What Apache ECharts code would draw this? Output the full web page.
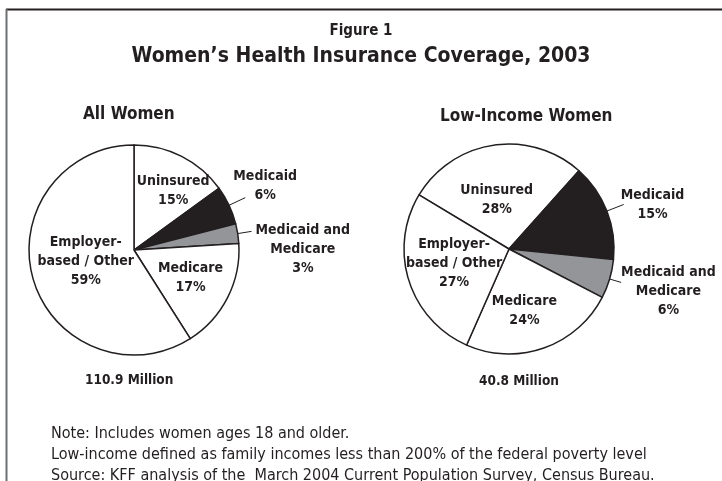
<!DOCTYPE HTML>
<html>
	<head>
		<meta charset="utf-8">
		<title>Women's Health Insurance Coverage, 2003</title>
		<style type="text/css">
			html, body { margin: 0; padding: 0; background: #fff; }
			#main { width: 722px; height: 481px; }
		</style>
	</head>
	<body>
		<div id="main"></div>
	</body>
	<script type="text/javascript" src="https://cdn.jsdelivr.net/npm/echarts@6/dist/echarts.min.js"></script>
	<script type="text/javascript">
		var FONT = "'Liberation Sans Narrow', 'DejaVu Sans Condensed', 'Noto Sans', sans-serif";

		// slices, clockwise from the first one
		var categories = ['Uninsured', 'Medicaid', 'Medicaid and Medicare', 'Medicare', 'Employer-based / Other'];
		var labelNames = ['Uninsured', 'Medicaid', 'Medicaid and\nMedicare', 'Medicare', 'Employer-\nbased / Other'];
		var allWomen = [15, 6, 3, 17, 59];
		var lowIncome = [28, 15, 6, 24, 27];
		var sliceColors = ['#ffffff', '#231f20', '#939598', '#ffffff', '#ffffff'];
		var outsideSlices = [1, 2];

		var pieTitles = ['All Women', 'Low-Income Women'];
		var totals = ['110.9 Million', '40.8 Million'];
		var notes = [
			'Note: Includes women ages 18 and older.',
			'Low-income defined as family incomes less than 200% of the federal poverty level',
			'Source: KFF analysis of the  March 2004 Current Population Survey, Census Bureau.'
		];

		// label nudges (px) from the default spot, and leader line lengths
		var leftLayout = {
			shift : [[14, -10], [-17, -12], [-1, 18], [7, 3], [5, -4]],
			lineLen : { 1 : 18, 2 : 14 }
		};
		var rightLayout = {
			shift : [[-4, 6], [-8, 0], [-5, 9], [-3, 10], [-2, -2]],
			lineLen : { 1 : 18, 2 : 12 }
		};

		function labelText(name, value) {
			return name.split('\n').map(function(s) {
				return '{c|' + s + '}';
			}).join('\n') + '\n{c|' + value + '%}';
		}

		function buildData(values, lay) {
			return values.map(function(v, i) {
				var item = {
					name : categories[i],
					value : v,
					itemStyle : { color : sliceColors[i] },
					label : {
						formatter : labelText(labelNames[i], v)
					}
				};
				if (outsideSlices.indexOf(i) >= 0) {
					item.label.position = 'outside';
					item.labelLine = { show : true, length : lay.lineLen[i], length2 : 0 };
				}
				return item;
			});
		}

		function pieSeries(values, center, startAngle, lay) {
			return {
				type : 'pie',
				center : center,
				radius : 105,
				startAngle : startAngle,
				clockwise : true,
				animation : false,
				silent : true,
				avoidLabelOverlap : false,
				itemStyle : {
					borderColor : '#231f20',
					borderWidth : 1.5
				},
				label : {
					show : true,
					position : 'inside',
					fontFamily : FONT,
					lineHeight : 19,
					rich : {
						c : {
							align : 'center',
							fontFamily : FONT,
							fontWeight : 'bold',
							fontSize : 14,
							lineHeight : 19,
							color : '#231f20'
						}
					}
				},
				labelLine : {
					show : false,
					lineStyle : { color : '#231f20', width : 1 }
				},
				labelLayout : function(p) {
					var s = lay.shift[p.dataIndex];
					return { dx : s[0], dy : s[1] };
				},
				data : buildData(values, lay)
			};
		}

		var titleStyle = { fontFamily : FONT, fontWeight : 'bold', color : '#231f20' };

		option = {
			backgroundColor : '#ffffff',
			title : [{
				text : 'Figure 1',
				left : 'center',
				top : 19,
				textStyle : Object.assign({ fontSize : 15 }, titleStyle)
			}, {
				text : 'Women\u2019s Health Insurance Coverage, 2003',
				left : 'center',
				top : 41,
				textStyle : Object.assign({ fontSize : 21 }, titleStyle)
			}, {
				text : pieTitles[0],
				left : 78,
				top : 101,
				textStyle : Object.assign({ fontSize : 17 }, titleStyle)
			}, {
				text : pieTitles[1],
				left : 435,
				top : 103,
				textStyle : Object.assign({ fontSize : 17 }, titleStyle)
			}, {
				text : totals[0],
				left : 80,
				top : 368,
				textStyle : Object.assign({ fontSize : 13.5 }, titleStyle)
			}, {
				text : totals[1],
				left : 474,
				top : 369,
				textStyle : Object.assign({ fontSize : 13.5 }, titleStyle)
			}, {
				text : notes.join('\n'),
				left : 46,
				top : 418,
				textStyle : {
					fontFamily : FONT,
					fontWeight : 'normal',
					fontSize : 16,
					lineHeight : 21,
					color : '#231f20'
				}
			}],
			graphic : [{
				type : 'line',
				shape : { x1 : 6, y1 : 9.5, x2 : 722, y2 : 9.5 },
				style : { stroke : '#231f20', lineWidth : 2 }
			}, {
				type : 'line',
				shape : { x1 : 6.5, y1 : 9, x2 : 6.5, y2 : 481 },
				style : { stroke : '#6d6e70', lineWidth : 2 }
			}],
			series : [
				pieSeries(allWomen, [134, 250], 90, leftLayout),
				pieSeries(lowIncome, [509, 249], 149, rightLayout)
			]
		};

		var myChart = echarts.init(document.getElementById('main'));
		myChart.setOption(option);
	</script>
</html>
